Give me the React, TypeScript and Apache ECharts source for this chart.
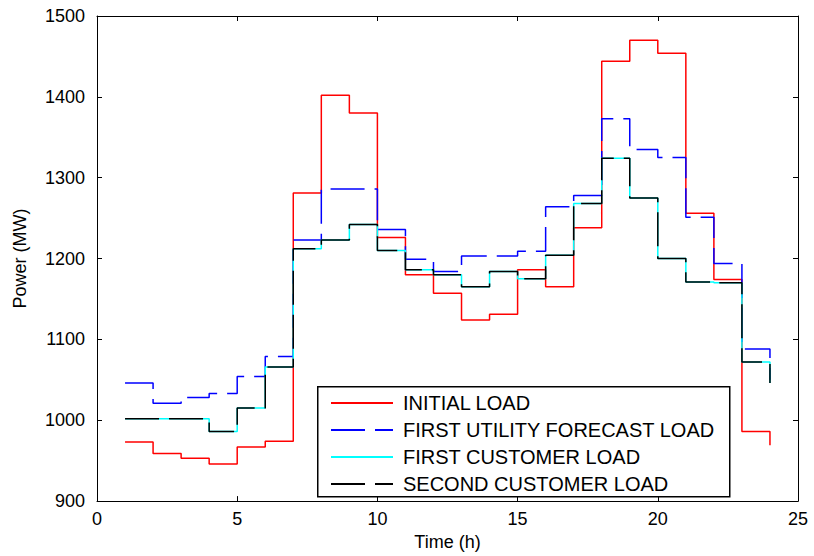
import React, { useEffect, useRef } from "react";
import * as echarts from "echarts";

const hours = [1, 2, 3, 4, 5, 6, 7, 8, 9, 10, 11, 12, 13, 14, 15, 16, 17, 18, 19, 20, 21, 22, 23, 24];
const initialLoad = [973, 959, 953, 946, 967, 974, 1281, 1402, 1380, 1226, 1180, 1157, 1124, 1131, 1186, 1165, 1238, 1444, 1470, 1454, 1256, 1174, 986, 969];
const utilityForecast = [1046, 1021, 1028, 1033, 1054, 1079, 1223, 1286, 1286, 1236, 1199, 1184, 1203, 1203, 1209, 1264, 1278, 1373, 1335, 1325, 1251, 1194, 1088, 1050];
const firstCustomer = [1002, 1002, 1002, 986, 1015, 1066, 1212, 1223, 1242, 1210, 1186, 1180, 1165, 1184, 1175, 1204, 1268, 1324, 1275, 1200, 1171, 1170, 1072, 1046];
const secondCustomer = [1002, 1002, 1002, 986, 1015, 1066, 1212, 1223, 1242, 1210, 1186, 1180, 1165, 1184, 1175, 1204, 1268, 1324, 1275, 1200, 1171, 1170, 1072, 1046];
const seriesNames = ["INITIAL LOAD", "FIRST UTILITY FORECAST LOAD", "FIRST CUSTOMER LOAD", "SECOND CUSTOMER LOAD"];

const FONT = "Liberation Sans, Arial, sans-serif";

export default function App() {
  const ref = useRef<HTMLDivElement>(null);
  useEffect(() => {
    if (!ref.current) return;
    const chart = echarts.init(ref.current, undefined, { renderer: "svg" });
    const pairs = (v: number[]) => hours.map((h, i) => [h, v[i]]);
    const mk = (name: string, v: number[], color: string, type: any) => ({
      name,
      type: "line",
      step: "end",
      data: pairs(v),
      symbol: "none",
      showSymbol: false,
      lineStyle: { color, width: 1.5, type },
      itemStyle: { color },
    });
    const tick = { show: true, inside: true, length: 5, lineStyle: { color: "#000", width: 1 } };
    const line = { show: true, onZero: false, lineStyle: { color: "#000", width: 1 } };
    const plain = (v: number) => String(v);
    chart.setOption({
      animation: false,
      backgroundColor: "#fff",
      grid: { left: 97, right: 16, top: 16, bottom: 53 },
      xAxis: [
        {
          type: "value", min: 0, max: 25, interval: 5,
          axisLine: line, axisTick: tick, splitLine: { show: false },
          axisLabel: { color: "#000", fontSize: 18, fontFamily: FONT, margin: 9, formatter: plain },
          name: "Time (h)", nameLocation: "middle", nameGap: 29,
          nameTextStyle: { color: "#000", fontSize: 18, fontFamily: FONT },
        },
        {
          type: "value", min: 0, max: 25, interval: 5, position: "top",
          axisLine: line, axisTick: tick, splitLine: { show: false }, axisLabel: { show: false },
        },
      ],
      yAxis: [
        {
          type: "value", min: 900, max: 1500, interval: 100,
          axisLine: line, axisTick: tick, splitLine: { show: false },
          axisLabel: { color: "#000", fontSize: 18, fontFamily: FONT, margin: 12, formatter: plain },
          name: "Power (MW)", nameLocation: "middle", nameGap: 68,
          nameTextStyle: { color: "#000", fontSize: 18, fontFamily: FONT },
        },
        {
          type: "value", min: 900, max: 1500, interval: 100, position: "right",
          axisLine: line, axisTick: tick, splitLine: { show: false }, axisLabel: { show: false },
        },
      ],
      legend: {
        orient: "vertical",
        left: 330,
        top: 393,
        padding: 0,
        itemWidth: 62,
        itemHeight: 14,
        itemGap: 7,
        data: seriesNames,
        itemStyle: { opacity: 0 },
        textStyle: { color: "#000", fontSize: 20, fontFamily: FONT, padding: [0, 0, 0, 5] },
      },
      graphic: [
        {
          type: "rect", left: 317, top: 386, z: 1,
          shape: { width: 412, height: 110 },
          style: { fill: "#fff", stroke: "#000", lineWidth: 1.5 },
        },
      ],
      series: [
        mk(seriesNames[0], initialLoad, "#ff0000", "solid"),
        mk(seriesNames[1], utilityForecast, "#0000ff", [34, 10]),
        mk(seriesNames[2], firstCustomer, "#00ffff", "solid"),
        mk(seriesNames[3], secondCustomer, "#000000", [34, 10]),
      ],
    });
    return () => chart.dispose();
  }, []);
  return <div ref={ref} style={{ width: 814, height: 556, position: "absolute", left: 0, top: 0 }} />;
}
